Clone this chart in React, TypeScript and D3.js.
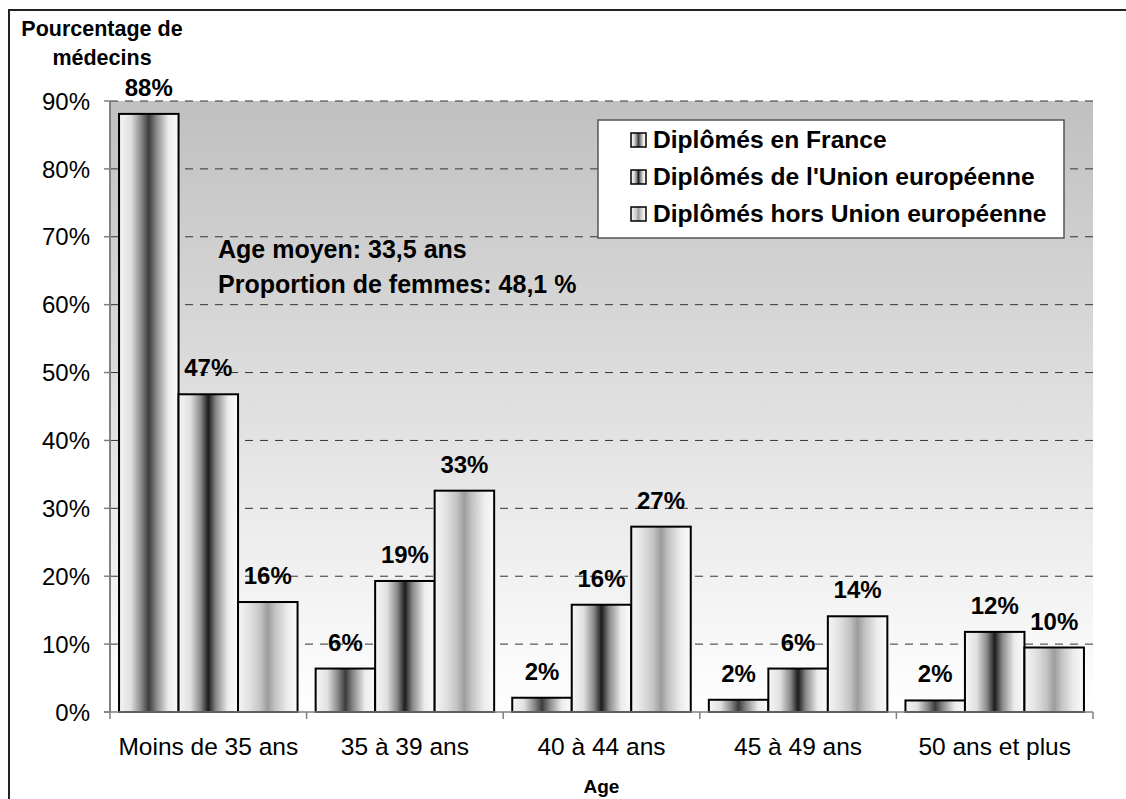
import * as d3 from 'd3';

const categories = ['Moins de 35 ans', '35 à 39 ans', '40 à 44 ans', '45 à 49 ans', '50 ans et plus'];
const seriesNames = ['Diplômés en France', "Diplômés de l'Union européenne", 'Diplômés hors Union européenne'];
const franceValues = [88.1, 6.4, 2.1, 1.8, 1.7];
const euValues = [46.8, 19.3, 15.8, 6.4, 11.8];
const nonEuValues = [16.2, 32.6, 27.3, 14.1, 9.5];
const yTicks = [0, 10, 20, 30, 40, 50, 60, 70, 80, 90];
const notes = ['Age moyen: 33,5 ans', 'Proportion de femmes: 48,1 %'];

const FONT = '"Liberation Sans", Arial, sans-serif';

// center color of each gradient (edges are near white)
const darkStops = ['#3c3c3c', '#1c1c1c', '#9c9c9c'];

export default function App() {
  const width = 1126;
  const height = 799;
  const left = 110;
  const right = 1093;
  const top = 101;
  const bottom = 712;

  const series = [franceValues, euValues, nonEuValues];

  const x0 = d3.scaleBand<string>().domain(categories).range([left, right]);
  const x1 = d3
    .scaleBand<number>()
    .domain([0, 1, 2])
    .range([0, x0.bandwidth()])
    .paddingInner(0)
    .paddingOuter(0.152);
  const y = d3.scaleLinear().domain([0, 90]).range([bottom, top]);

  const mid = (c: string) => (c === '#9c9c9c' ? '#c4c4c4' : '#8a8a8a');

  return (
    <svg
      width={width}
      height={height}
      style={{ position: 'absolute', left: 0, top: 0, fontFamily: FONT }}
    >
      <defs>
        <linearGradient id="bg" x1="0" y1="0" x2="0" y2="1">
          <stop offset="0%" stopColor="#c0c0c0" />
          <stop offset="100%" stopColor="#ffffff" />
        </linearGradient>
        {darkStops.map((c, i) => (
          <linearGradient id={`bar-${i}`} key={i} x1="0" y1="0" x2="1" y2="0">
            <stop offset="0%" stopColor="#f6f6f6" />
            <stop offset="20%" stopColor="#e0e0e0" />
            <stop offset="37%" stopColor={mid(c)} />
            <stop offset="50%" stopColor={c} />
            <stop offset="63%" stopColor={mid(c)} />
            <stop offset="83%" stopColor="#ececec" />
            <stop offset="100%" stopColor="#fbfbfb" />
          </linearGradient>
        ))}
      </defs>

      <rect x={0} y={0} width={width} height={height} fill="#ffffff" />
      {/* outer frame, runs past the page */}
      <rect x={9} y={10} width={1200} height={900} fill="none" stroke="#222" strokeWidth={2} />

      {/* plot area */}
      <rect x={left} y={top} width={right - left} height={bottom - top} fill="url(#bg)" />

      {/* gridlines */}
      {yTicks.filter((t) => t > 0).map((t) => (
        <line
          key={t}
          x1={left}
          x2={right}
          y1={y(t)}
          y2={y(t)}
          stroke="#333"
          strokeWidth={1}
          strokeDasharray="8,7"
        />
      ))}

      {/* bars */}
      {categories.map((c, ci) => (
        <g key={c} transform={`translate(${x0(c)},0)`}>
          {series.map((vals, si) => (
            <rect
              key={si}
              x={x1(si)}
              y={y(vals[ci])}
              width={x1.bandwidth()}
              height={bottom - y(vals[ci])}
              fill={`url(#bar-${si})`}
              stroke="#000"
              strokeWidth={2}
            />
          ))}
        </g>
      ))}

      {/* axes */}
      <line x1={left} x2={left} y1={top} y2={bottom} stroke="#808080" strokeWidth={2} />
      <line x1={left - 6} x2={right} y1={bottom} y2={bottom} stroke="#808080" strokeWidth={1.5} />
      {yTicks.map((t) => (
        <g key={t}>
          <line x1={left - 6} x2={left} y1={y(t)} y2={y(t)} stroke="#808080" strokeWidth={1.5} />
          <text x={90} y={y(t)} dy="0.36em" textAnchor="end" fontSize={24} fill="#000">
            {t}%
          </text>
        </g>
      ))}
      {[...categories.map((c) => x0(c) as number), right].map((xv, i) => (
        <line key={i} x1={xv} x2={xv} y1={bottom} y2={bottom + 7} stroke="#808080" strokeWidth={1.5} />
      ))}
      {categories.map((c) => (
        <text
          key={c}
          x={(x0(c) as number) + x0.bandwidth() / 2}
          y={755}
          textAnchor="middle"
          fontSize={24.5}
          fill="#000"
        >
          {c}
        </text>
      ))}

      {/* value labels */}
      {categories.map((c, ci) =>
        series.map((vals, si) => (
          <text
            key={`${ci}-${si}`}
            x={(x0(c) as number) + (x1(si) as number) + x1.bandwidth() / 2}
            y={y(vals[ci]) - 18}
            textAnchor="middle"
            fontSize={24}
            fontWeight="bold"
            fill="#000"
          >
            {Math.round(vals[ci])}%
          </text>
        ))
      )}

      {/* annotation */}
      {notes.map((n, i) => (
        <text key={n} x={218} y={258 + i * 35} fontSize={25} fontWeight="bold" fill="#000">
          {n}
        </text>
      ))}

      {/* legend */}
      <rect x={598} y={120} width={466} height={118} fill="#fff" stroke="#555" strokeWidth={1.5} />
      {seriesNames.map((n, i) => (
        <g key={n} transform={`translate(0,${148 + i * 37})`}>
          <rect x={631} y={-15} width={15} height={14} fill={`url(#bar-${i})`} stroke="#000" strokeWidth={1.5} />
          <text x={653} y={0} fontSize={24.6} fontWeight="bold" fill="#000">
            {n}
          </text>
        </g>
      ))}

      {/* axis titles */}
      <text x={102} y={36} textAnchor="middle" fontSize={21.5} fontWeight="bold" fill="#000">
        Pourcentage de
      </text>
      <text x={102} y={65} textAnchor="middle" fontSize={21.5} fontWeight="bold" fill="#000">
        médecins
      </text>
      <text x={(left + right) / 2} y={793} textAnchor="middle" fontSize={19} fontWeight="bold" fill="#000">
        Age
      </text>
    </svg>
  );
}
